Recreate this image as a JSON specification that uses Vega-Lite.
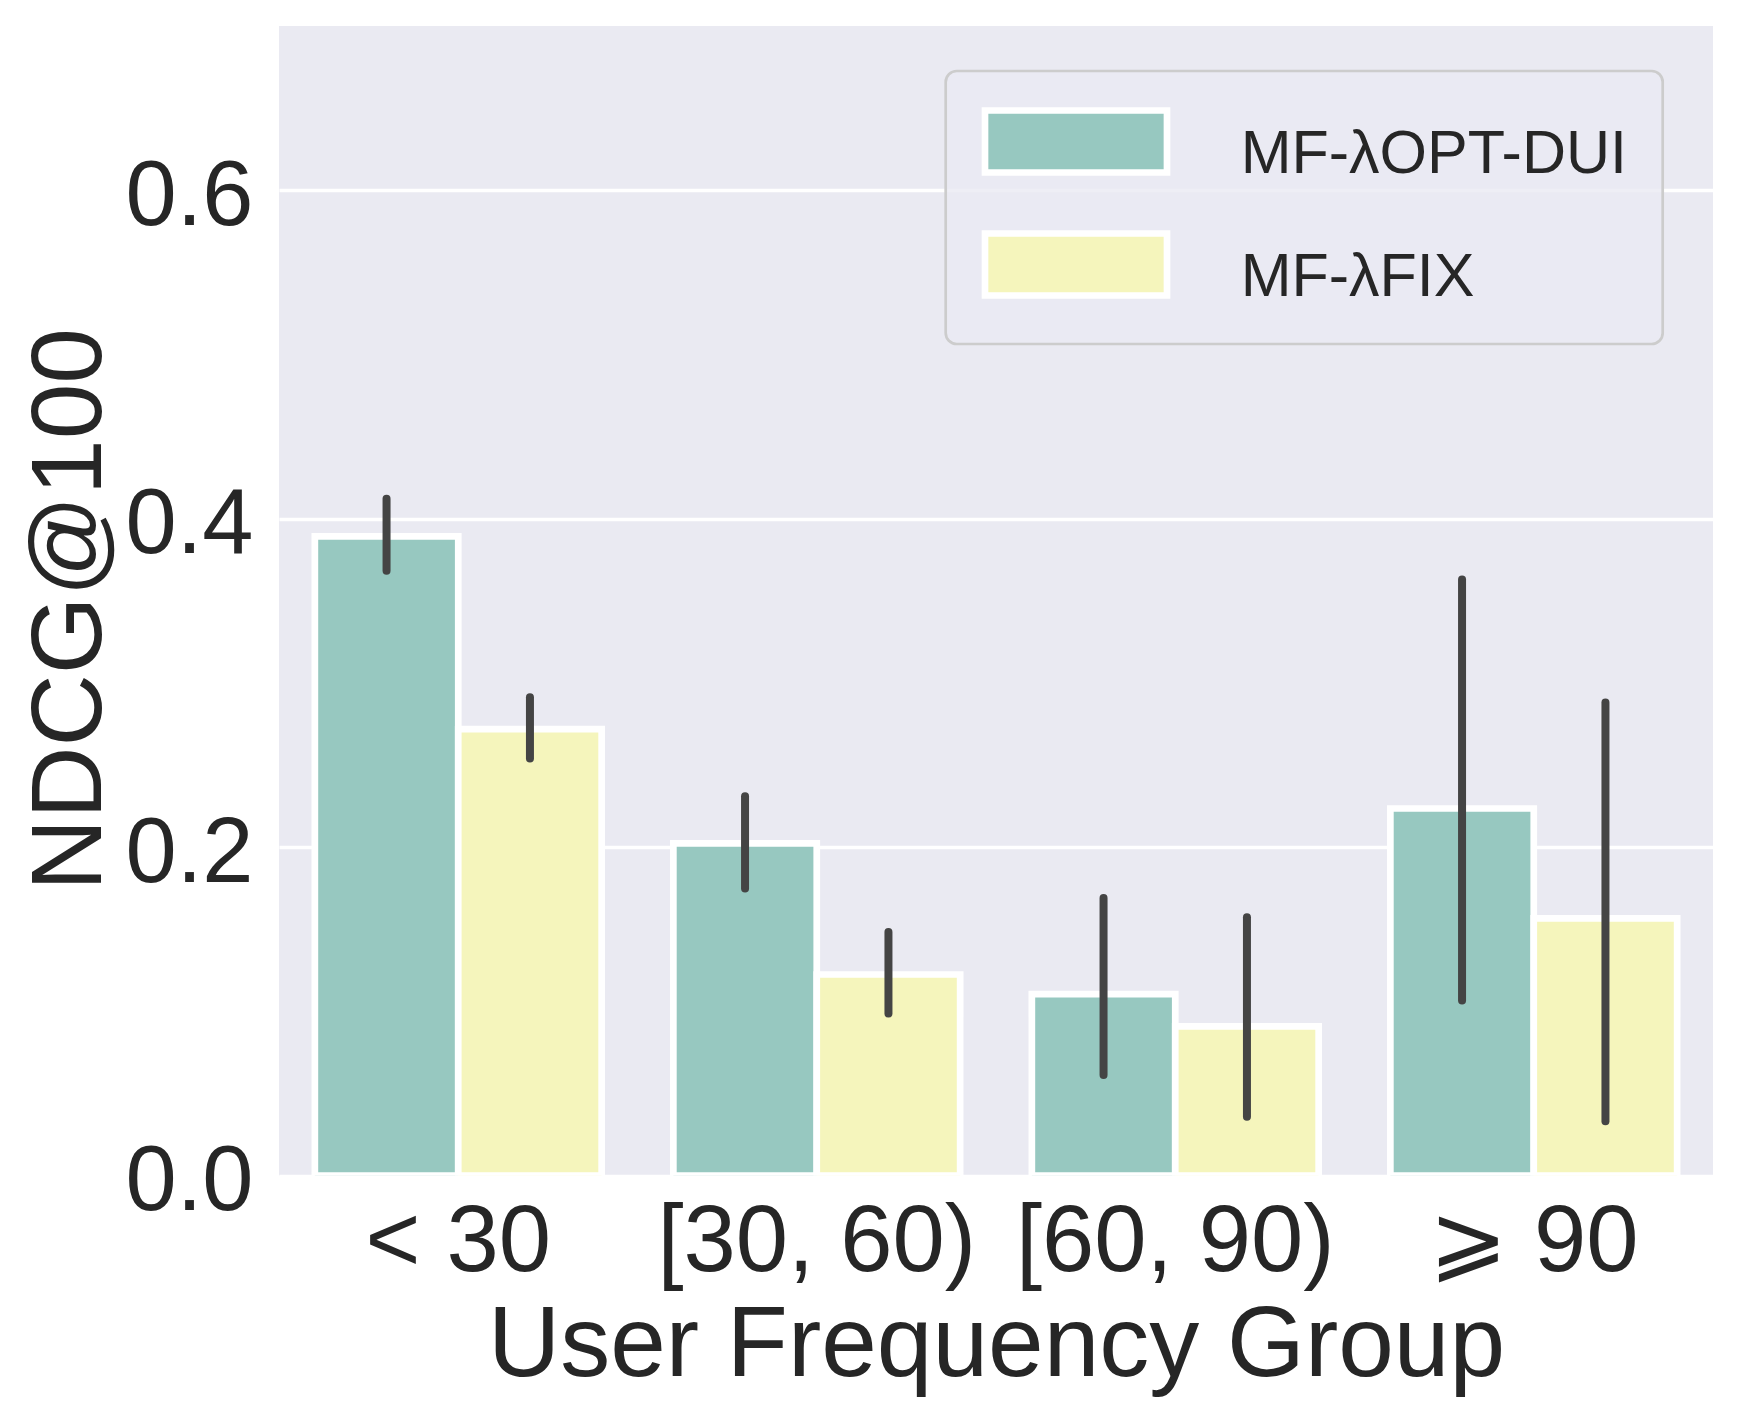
{
  "$schema": "https://vega.github.io/schema/vega-lite/v6.json",
  "width": 1434,
  "height": 1149.5,
  "padding": {"left": 279, "top": 26, "right": 25, "bottom": 239.5},
  "autosize": {"type": "none"},
  "background": "white",
  "config": {
    "view": {"fill": "#EAEAF2", "stroke": null},
    "font": "Liberation Sans",
    "axis": {"domain": false, "ticks": false, "tickSize": 0, "labelColor": "#262626", "titleColor": "#262626", "titleFontWeight": "normal", "gridColor": "white", "gridWidth": 3.3, "gridOpacity": 1},
    "legend": {"strokeWidth": 2.7}
  },
  "data": {
    "values": [
      {"group": "< 30", "method": "MF-λOPT-DUI", "value": 0.3892, "lo": 0.3683, "hi": 0.4121},
      {"group": "< 30", "method": "MF-λFIX", "value": 0.2718, "lo": 0.2539, "hi": 0.2913},
      {"group": "[30, 60)", "method": "MF-λOPT-DUI", "value": 0.2023, "lo": 0.1747, "hi": 0.231},
      {"group": "[30, 60)", "method": "MF-λFIX", "value": 0.1224, "lo": 0.0986, "hi": 0.1483},
      {"group": "[60, 90)", "method": "MF-λOPT-DUI", "value": 0.1104, "lo": 0.0612, "hi": 0.169},
      {"group": "[60, 90)", "method": "MF-λFIX", "value": 0.0908, "lo": 0.0358, "hi": 0.1573},
      {"group": "⩾ 90", "method": "MF-λOPT-DUI", "value": 0.2235, "lo": 0.1065, "hi": 0.363},
      {"group": "⩾ 90", "method": "MF-λFIX", "value": 0.1566, "lo": 0.033, "hi": 0.288}
    ]
  },
  "encoding": {
    "x": {
      "field": "group", "type": "nominal", "sort": null,
      "scale": {"paddingInner": 0.2, "paddingOuter": 0.1},
      "axis": {"labelAngle": 0, "labelFontSize": 94, "labelPadding": 21, "labelLimit": 0, "grid": false, "title": "User Frequency Group", "titleFontSize": 100, "titleX": 717, "titleY": 199.5, "titleBaseline": "alphabetic", "titleAlign": "center"}
    },
    "xOffset": {"field": "method", "type": "nominal", "sort": ["MF-λOPT-DUI", "MF-λFIX"], "scale": {"paddingInner": 0, "paddingOuter": 0}}
  },
  "layer": [
    {
      "mark": {"type": "bar", "stroke": "white", "strokeWidth": 6.7, "clip": true, "opacity": 1},
      "encoding": {
        "y": {
          "field": "value", "type": "quantitative",
          "scale": {"domain": [0, 0.7], "nice": false, "zero": true},
          "axis": {"values": [0, 0.2, 0.4, 0.6], "format": ".1f", "labelFontSize": 92, "labelPadding": 26, "labelOffset": 6, "grid": true, "title": "NDCG@100", "titleFontSize": 100, "titleAngle": -90, "titleX": -179, "titleY": 583, "titleBaseline": "alphabetic", "titleAlign": "center"}
        },
        "color": {
          "field": "method", "type": "nominal",
          "sort": ["MF-λOPT-DUI", "MF-λFIX"],
          "scale": {"domain": ["MF-λOPT-DUI", "MF-λFIX"], "range": ["#97c8c0", "#f5f5bc"]},
          "legend": {
            "title": null,
            "orient": "none",
            "legendX": 666.7,
            "legendY": 45,
            "padding": 35,
            "fillColor": "rgba(234,234,242,0.8)",
            "strokeColor": "#cccccc",
            "cornerRadius": 11,
            "symbolType": "M-0.988,-0.982L3.978,-0.982L3.978,0.709L-0.988,0.709Z",
            "symbolSize": 5373,
            "symbolStrokeColor": "white",
            "symbolStrokeWidth": 6.7,
            "symbolOpacity": 1,
            "labelFontSize": 61,
            "labelColor": "#262626",
            "labelBaseline": "middle",
            "labelOffset": 179,
            "labelLimit": 0,
            "rowPadding": 34,
            "encode": {"labels": {"update": {"dy": {"value": 8.5}}}}
          }
        }
      }
    },
    {
      "mark": {"type": "rule", "color": "#444444", "strokeWidth": 8, "strokeCap": "round"},
      "encoding": {
        "y": {"field": "lo", "type": "quantitative"},
        "y2": {"field": "hi"}
      }
    }
  ]
}
